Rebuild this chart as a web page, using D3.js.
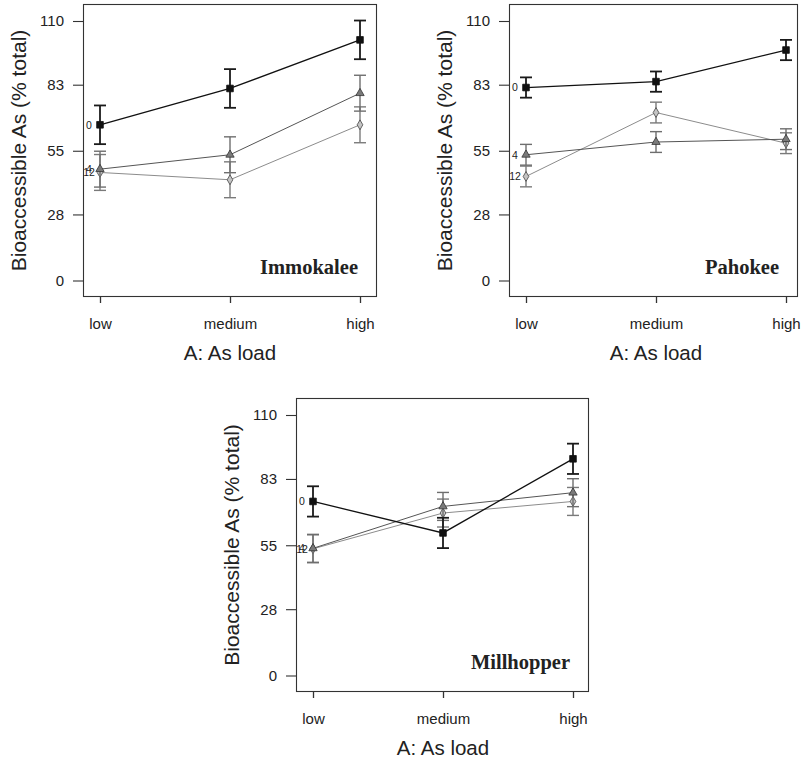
<!DOCTYPE html>
<html>
<head>
<meta charset="utf-8">
<script src="https://cdn.jsdelivr.net/npm/d3@7"></script>
<style>
  body { margin: 0; background: #fff; }
  svg { display: block; }
</style>
</head>
<body>
<script>
// As load levels on the x axis, and the three series drawn in each panel
const loads = ['low', 'medium', 'high']
const seriesNames = ['0', '4', '12']
const yTicks = [0, 28, 55, 83, 110]

// Immokalee
const immokalee0 = [66, 81.4, 102]
const immokalee4 = [47.2, 53.3, 79.4]
const immokalee12 = [45.8, 42.7, 66]
const immokaleeSE = [8.2, 7.6, 7.6]

// Pahokee
const pahokee0 = [81.8, 84.3, 97.7]
const pahokee4 = [53.3, 58.7, 59.9]
const pahokee12 = [44.1, 71.2, 58.2]
const pahokeeSE = [4.3, 4.4, 4.4]

// Millhopper
const millhopper0 = [73.5, 60.2, 91.5]
const millhopper4 = [53.7, 71.4, 77.2]
const millhopper12 = [53.5, 68.6, 73.5]
const millhopperSE = [6.4, 5.9, 5.9]

const width = 803
const height = 760

const panels = [
  { name: 'Immokalee', means: [immokalee0, immokalee4, immokalee12], se: immokaleeSE,
    left: 83, top: 4, right: 377, bottom: 297 },
  { name: 'Pahokee', means: [pahokee0, pahokee4, pahokee12], se: pahokeeSE,
    left: 509, top: 4, right: 798, bottom: 297 },
  { name: 'Millhopper', means: [millhopper0, millhopper4, millhopper12], se: millhopperSE,
    left: 296, top: 398, right: 589, bottom: 692 }
]

// line / marker styles per series
const styles = [
  { line: '#111', lineWidth: 1.3, bar: '#1a1a1a', barWidth: 1.8, shape: 'square', fill: '#111', stroke: '#111' },
  { line: '#555', lineWidth: 1, bar: '#6e6e6e', barWidth: 1.4, shape: 'triangle', fill: '#7a7a7a', stroke: '#333' },
  { line: '#8c8c8c', lineWidth: 1, bar: '#7a7a7a', barWidth: 1.4, shape: 'diamond', fill: '#c4c4c4', stroke: '#444' }
]

const svg = d3.select('body').append('svg')
  .attr('width', width)
  .attr('height', height)

const sans = 'Liberation Sans, Arial, Helvetica, sans-serif'

panels.forEach((p) => {
  const x = d3.scalePoint().domain(loads).range([p.left + 17, p.left + 277])
  const y = d3.scaleLinear().domain([0, 110]).range([p.bottom - 16.5, p.top + 17])

  const g = svg.append('g')

  // frame
  g.append('rect')
    .attr('x', p.left + 0.5)
    .attr('y', p.top + 0.5)
    .attr('width', p.right - p.left - 1)
    .attr('height', p.bottom - p.top - 1)
    .attr('fill', 'none')
    .attr('stroke', '#333')
    .attr('stroke-width', 1.1)

  // y axis
  const yAxis = g.append('g')
    .attr('transform', `translate(${p.left},0)`)
    .call(d3.axisLeft(y).tickValues(yTicks).tickSize(10).tickPadding(9).tickFormat(d3.format('d')))
  yAxis.select('.domain').remove()
  yAxis.selectAll('line').attr('stroke', '#333').attr('stroke-width', 1.1)
  yAxis.selectAll('text').attr('font-family', sans).attr('font-size', 15).attr('fill', '#222')

  // x axis
  const xAxis = g.append('g')
    .attr('transform', `translate(0,${p.bottom})`)
    .call(d3.axisBottom(x).tickSize(6).tickPadding(15))
  xAxis.select('.domain').remove()
  xAxis.selectAll('line').attr('stroke', '#333').attr('stroke-width', 1.3)
  xAxis.selectAll('text').attr('font-family', sans).attr('font-size', 15).attr('fill', '#222')

  // axis titles
  g.append('text')
    .attr('x', (x('low') + x('high')) / 2)
    .attr('y', p.bottom + 63)
    .attr('text-anchor', 'middle')
    .attr('font-family', sans)
    .attr('font-size', 20.5)
    .attr('fill', '#222')
    .text('A: As load')

  g.append('text')
    .attr('transform', `translate(${p.left - 57},${(p.top + p.bottom) / 2}) rotate(-90)`)
    .attr('text-anchor', 'middle')
    .attr('font-family', sans)
    .attr('font-size', 21)
    .attr('fill', '#222')
    .text('Bioaccessible As (% total)')

  // panel name
  g.append('text')
    .attr('x', p.right - 19)
    .attr('y', p.bottom - 23)
    .attr('text-anchor', 'end')
    .attr('font-family', 'Liberation Serif, Times New Roman, serif')
    .attr('font-weight', 'bold')
    .attr('font-size', 20.5)
    .attr('fill', '#222')
    .text(p.name)

  // draw grey series first, black on top
  ;[2, 1, 0].forEach((si) => {
    const st = styles[si]
    const pts = loads.map((l, i) => ({ load: l, v: p.means[si][i], se: p.se[si] }))

    g.append('path')
      .datum(pts)
      .attr('fill', 'none')
      .attr('stroke', st.line)
      .attr('stroke-width', st.lineWidth)
      .attr('d', d3.line().x((d) => x(d.load)).y((d) => y(d.v)))

    const bars = g.append('g')
      .attr('stroke', st.bar)
      .attr('stroke-width', st.barWidth)
      .selectAll('g')
      .data(pts)
      .join('g')
    bars.append('line')
      .attr('x1', (d) => x(d.load)).attr('x2', (d) => x(d.load))
      .attr('y1', (d) => y(d.v - d.se)).attr('y2', (d) => y(d.v + d.se))
    bars.append('line')
      .attr('x1', (d) => x(d.load) - 6).attr('x2', (d) => x(d.load) + 6)
      .attr('y1', (d) => y(d.v + d.se)).attr('y2', (d) => y(d.v + d.se))
    bars.append('line')
      .attr('x1', (d) => x(d.load) - 6).attr('x2', (d) => x(d.load) + 6)
      .attr('y1', (d) => y(d.v - d.se)).attr('y2', (d) => y(d.v - d.se))

    const sym = st.shape === 'square' ? d3.symbolSquare : st.shape === 'triangle' ? d3.symbolTriangle : d3.symbolDiamond
    const size = st.shape === 'square' ? 44 : st.shape === 'triangle' ? 30 : 28
    g.append('g')
      .selectAll('path')
      .data(pts)
      .join('path')
      .attr('transform', (d) => `translate(${x(d.load)},${y(d.v)})`)
      .attr('d', d3.symbol().type(sym).size(size))
      .attr('fill', st.fill)
      .attr('stroke', st.stroke)
      .attr('stroke-width', 0.8)

    // series label at the left end
    g.append('text')
      .attr('x', x('low') - 11)
      .attr('y', y(p.means[si][0]))
      .attr('dy', '0.36em')
      .attr('text-anchor', 'middle')
      .attr('font-family', sans)
      .attr('font-size', 10.5)
      .attr('fill', '#222')
      .text(seriesNames[si])
  })
})
</script>
</body>
</html>
